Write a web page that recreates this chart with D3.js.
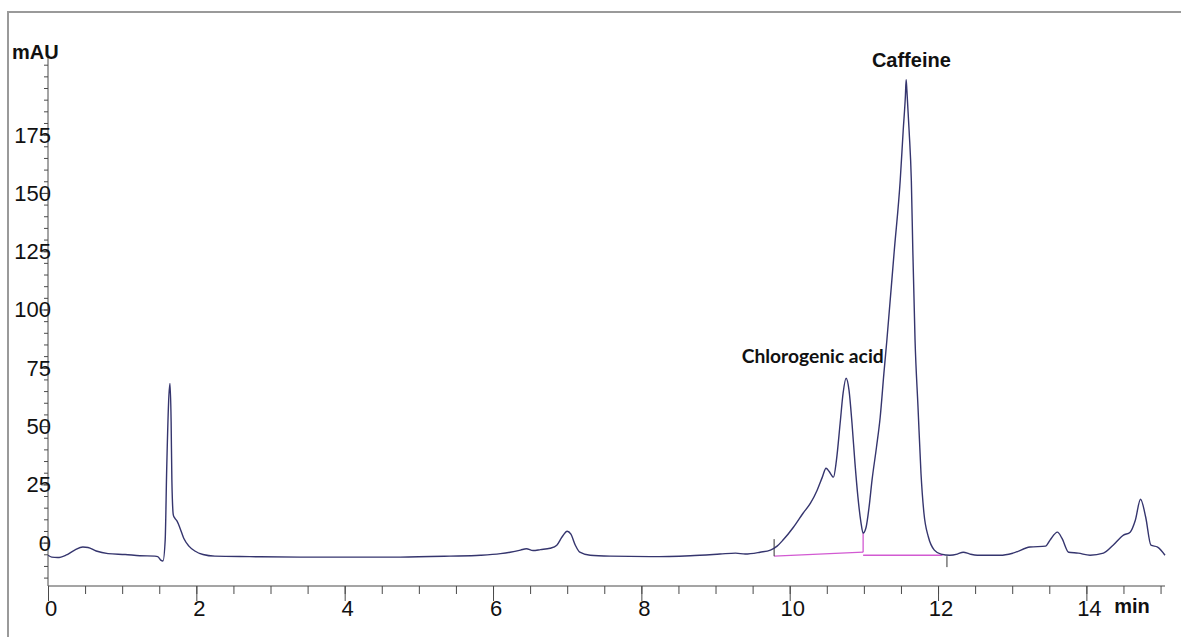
<!DOCTYPE html>
<html>
<head>
<meta charset="utf-8">
<script src="https://cdn.jsdelivr.net/npm/d3@7"></script>
<style>
  body { margin: 0; background: #fff; }
  svg { display: block; }
  text { font-family: "Liberation Sans", Arial, sans-serif; }
  text.calib { font-family: Lato, "Open Sans", sans-serif; }
</style>
</head>
<body>
<div id="chart"></div>
<script>
// Retention time (min)
var times = [0.00, 0.05, 0.13, 0.24, 0.36, 0.47, 0.54, 0.65, 0.81, 1.04, 1.24, 1.44, 1.48, 1.52, 1.55,
  1.58, 1.60, 1.63, 1.645, 1.66, 1.67, 1.69, 1.71, 1.74, 1.78, 1.83, 1.90, 1.98, 2.09, 2.25, 2.72,
  3.40, 4.75, 5.42, 5.83, 6.10, 6.23, 6.37, 6.45, 6.54, 6.64, 6.77, 6.86, 6.93, 7.00, 7.05, 7.11,
  7.17, 7.31, 7.58, 8.12, 8.66, 9.06, 9.27, 9.40, 9.60, 9.74, 9.83, 9.91, 10.05, 10.18, 10.28, 10.37,
  10.44, 10.49, 10.53, 10.59, 10.63, 10.68, 10.72, 10.76, 10.80, 10.84, 10.88, 10.92, 10.96, 10.99,
  11.03, 11.07, 11.11, 11.17, 11.22, 11.27, 11.31, 11.41, 11.49, 11.53, 11.56, 11.57, 11.58, 11.61,
  11.64, 11.66, 11.69, 11.73, 11.77, 11.81, 11.87, 11.95, 12.04, 12.16, 12.26, 12.34, 12.43, 12.53,
  12.84, 13.01, 13.24, 13.45, 13.51, 13.61, 13.67, 13.76, 13.89, 14.05, 14.23, 14.36, 14.50, 14.59,
  14.66, 14.73, 14.80, 14.87, 14.96, 15.06];

// Detector signal (mAU)
var signal = [-5.4, -6.2, -6.4, -5.4, -3.2, -1.9, -2.1, -3.6, -4.7, -5.1, -5.6, -5.8, -6.0, -7.5, -7.9,
  1.1, 31, 63, 68.3, 52, 27, 11.8, 10.5, 9.2, 6.2, 1.9, -1.5, -3.6, -5.1, -5.8, -6.0,
  -6.2, -6.2, -5.8, -5.4, -4.7, -4.1, -3.2, -2.6, -3.4, -3.0, -2.4, -1.1, 2.4, 4.9, 3.6, -1.1,
  -4.1, -5.4, -5.8, -6.0, -5.6, -4.9, -4.5, -4.9, -4.1, -3.2, -1.5, 1.1, 6.6, 12.6, 16.9, 22.5,
  28.1, 31.9, 30.6, 28.1, 35.3, 51.2, 64.1, 70.5, 65.3, 51.2, 34.1, 19.5, 8.8, 4.1,
  6.6, 15.2, 26.8, 40.9, 53.8, 72.6, 86.8, 125.3, 155.3, 176.7, 191.7, 198.6, 194, 176.7,
  155.3, 125.3, 86.8, 58.1, 29.8, 12.6, 2.4, -3.2, -4.9, -5.4, -4.9, -4.1, -4.9, -5.4,
  -5.4, -4.5, -1.9, -1.5, 1.1, 4.5, 1.9, -4.1, -4.5, -5.4, -4.5, -1.1, 3.2, 4.5,
  9.6, 18.6, 10.9, -1.1, -1.9, -5.4];

// Integration baselines (min, mAU)
var baseStart = [[9.79, -5.8], [10.99, -4.1]];
var baseSplit = [[10.99, -4.1], [10.99, 4.1]];
var baseEnd = [[10.99, -5.4], [12.06, -5.4]];
var peakMarks = [[9.79, 1.5, -5.8], [12.12, -5.8, -10.5]];

// Axis ticks
var xMajor = [0, 2, 4, 6, 8, 10, 12, 14];
var xMinor = d3.range(0, 15.01, 0.5);
var yMajor = [0, 25, 50, 75, 100, 125, 150, 175];
var yMinor = d3.range(-15, 206, 5);

// Peak labels
var peakNames = ["Chlorogenic acid", "Caffeine"];
var peakTimes = [10.31, 11.64];
var peakLabelValues = [80, 207];

var width = 1181;
var height = 637;

var svg = d3.select("#chart")
  .append("svg")
  .attr("width", width)
  .attr("height", height);

// outer frame
svg.append("path")
  .attr("d", "M8,637 L8,12 L1181,12")
  .attr("fill", "none")
  .attr("stroke", "#9a9a9a")
  .attr("stroke-width", 2);

var x = d3.scaleLinear().domain([0, 15.06]).range([48, 1165]);
var y = d3.scaleLinear().domain([-18.6, 208.3]).range([586, 57]);

var axisColor = "#4a4a4a";

// x axis
var gx = svg.append("g").attr("transform", "translate(0," + y.range()[0] + ")");
gx.call(d3.axisBottom(x).tickValues(xMinor).tickSize(8).tickSizeOuter(0).tickFormat(""));
gx.append("g").call(d3.axisBottom(x).tickValues(xMajor).tickSize(15).tickSizeOuter(0).tickFormat(""));
gx.selectAll(".domain").remove();
gx.append("line")
  .attr("x1", x.range()[0]).attr("x2", x.range()[1])
  .attr("stroke", axisColor);
gx.selectAll(".tick line").attr("stroke", axisColor);

svg.selectAll(".xlab")
  .data(xMajor)
  .enter()
  .append("text")
  .attr("class", "xlab")
  .attr("x", d => x(d) + 3)
  .attr("y", 616)
  .attr("text-anchor", "middle")
  .attr("font-size", 22)
  .attr("fill", "#111")
  .text(d => d);

svg.append("text")
  .attr("x", 1132)
  .attr("y", 613)
  .attr("text-anchor", "middle")
  .attr("font-weight", "bold")
  .attr("font-size", 20)
  .attr("fill", "#111")
  .text("min");

// y axis
var gy = svg.append("g").attr("transform", "translate(" + x.range()[0] + ",0)");
gy.call(d3.axisLeft(y).tickValues(yMinor).tickSize(4).tickSizeOuter(0).tickFormat(""));
gy.append("g").call(d3.axisLeft(y).tickValues(yMajor).tickSize(7).tickSizeOuter(0).tickFormat(""));
gy.selectAll(".domain").remove();
gy.append("line")
  .attr("y1", y.range()[0]).attr("y2", y.range()[1])
  .attr("stroke", axisColor);
gy.selectAll(".tick line").attr("stroke", axisColor);

svg.selectAll(".ylab")
  .data(yMajor)
  .enter()
  .append("text")
  .attr("class", "ylab")
  .attr("x", 51)
  .attr("y", d => y(d) + 8)
  .attr("text-anchor", "end")
  .attr("font-size", 22)
  .attr("fill", "#111")
  .text(d => d);

svg.append("text")
  .attr("x", 12)
  .attr("y", 59)
  .attr("font-weight", "bold")
  .attr("font-size", 20)
  .attr("fill", "#111")
  .text("mAU");

// integration baselines
var segLine = d3.line().x(d => x(d[0])).y(d => y(d[1]));
[baseStart, baseSplit, baseEnd].forEach(function (seg) {
  svg.append("path")
    .attr("d", segLine(seg))
    .attr("fill", "none")
    .attr("stroke", "#d25ad2")
    .attr("stroke-width", 1.3);
});

svg.selectAll(".mark")
  .data(peakMarks)
  .enter()
  .append("line")
  .attr("class", "mark")
  .attr("x1", d => x(d[0])).attr("x2", d => x(d[0]))
  .attr("y1", d => y(d[1])).attr("y2", d => y(d[2]))
  .attr("stroke", "#333");

// chromatogram trace
var trace = times.map((t, i) => [t, signal[i]]);
var line = d3.line()
  .x(d => x(d[0]))
  .y(d => y(d[1]))
  .curve(d3.curveMonotoneX);

svg.append("path")
  .datum(trace)
  .attr("d", line)
  .attr("fill", "none")
  .attr("stroke", "#35356e")
  .attr("stroke-width", 1.4);

// peak names
svg.append("text")
  .attr("class", "calib")
  .attr("x", x(peakTimes[0]))
  .attr("y", y(peakLabelValues[0]) + 7)
  .attr("text-anchor", "middle")
  .attr("font-weight", "bold")
  .attr("font-size", 19)
  .attr("textLength", 142)
  .attr("lengthAdjust", "spacingAndGlyphs")
  .attr("fill", "#111")
  .text(peakNames[0]);

svg.append("text")
  .attr("x", x(peakTimes[1]))
  .attr("y", y(peakLabelValues[1]) + 7)
  .attr("text-anchor", "middle")
  .attr("font-weight", "bold")
  .attr("font-size", 20)
  .attr("fill", "#111")
  .text(peakNames[1]);
</script>
</body>
</html>
